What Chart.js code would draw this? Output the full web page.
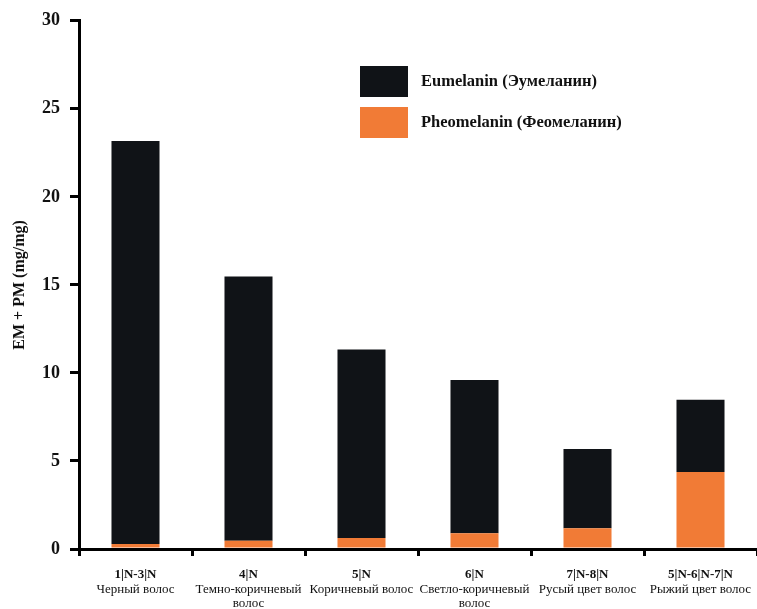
<!DOCTYPE html>
<html>
<head>
<meta charset="utf-8">
<script src="https://cdn.jsdelivr.net/npm/chart.js@4/dist/chart.umd.min.js"></script>
<style>
  html, body { margin: 0; padding: 0; background: #fff; }
  #wrap { width: 757px; height: 609px; position: relative; }
</style>
</head>
<body>
<div id="wrap"><canvas id="melanin"></canvas></div>
<script>
// categories: bold code line + plain name lines
const codes = ['1|N-3|N', '4|N', '5|N', '6|N', '7|N-8|N', '5|N-6|N-7|N'];
const names = [
    ['Черный волос'],
    ['Темно-коричневый', 'волос'],
    ['Коричневый волос'],
    ['Светло-коричневый', 'волос'],
    ['Русый цвет волос'],
    ['Рыжий цвет волос']
];
const eumelanin = [22.9, 15.0, 10.7, 8.7, 4.5, 4.1];
const pheomelanin = [0.28, 0.47, 0.63, 0.9, 1.18, 4.38];
const yTicks = [0, 5, 10, 15, 20, 25, 30];

const BLACK = '#101317';
const ORANGE = '#f17b36';
const SERIF = '"Liberation Serif", "DejaVu Serif", serif';

// legend boxes inside the plot, drawn from dataset labels/colours
const boxLegend = {
    id: 'boxLegend',
    afterDraw(chart) {
        const ctx = chart.ctx;
        const order = [1, 0];
        ctx.save();
        order.forEach((di, k) => {
            const ds = chart.data.datasets[di];
            const y = 66 + k * 41;
            ctx.fillStyle = ds.backgroundColor;
            ctx.fillRect(360, y, 48, 31);
            ctx.fillStyle = '#111';
            ctx.font = 'bold 16.5px ' + SERIF;
            ctx.textBaseline = 'middle';
            ctx.textAlign = 'left';
            ctx.fillText(ds.label, 421, y + 16);
        });
        ctx.restore();
    }
};

// two-font x labels under the axis
const xLabels = {
    id: 'xLabels',
    afterDraw(chart) {
        const ctx = chart.ctx;
        const x = chart.scales.x;
        ctx.save();
        ctx.fillStyle = '#111';
        ctx.textAlign = 'center';
        ctx.textBaseline = 'middle';
        codes.forEach((c, i) => {
            const px = x.getPixelForValue(i);
            ctx.font = 'bold 13px ' + SERIF;
            ctx.fillText(c, px, 575);
            ctx.font = '13px ' + SERIF;
            names[i].forEach((line, j) => {
                ctx.fillText(line, px, 590 + j * 14);
            });
        });
        ctx.restore();
    }
};

new Chart(document.getElementById('melanin'), {
    type: 'bar',
    data: {
        labels: codes,
        datasets: [{
            label: 'Pheomelanin (Феомеланин)',
            data: pheomelanin,
            backgroundColor: ORANGE
        }, {
            label: 'Eumelanin (Эумеланин)',
            data: eumelanin,
            backgroundColor: BLACK
        }]
    },
    options: {
        responsive: true,
        maintainAspectRatio: false,
        animation: false,
        layout: { padding: { top: 15, left: 0, right: 0, bottom: 0 } },
        datasets: { bar: { categoryPercentage: 1, barPercentage: 0.425 } },
        plugins: {
            legend: { display: false },
            tooltip: { enabled: false }
        },
        scales: {
            x: {
                stacked: true,
                border: { color: '#000', width: 3 },
                grid: {
                    offset: true,
                    drawOnChartArea: false,
                    color: '#000',
                    lineWidth: 3,
                    tickLength: 7
                },
                ticks: { display: false },
                afterFit(s) { s.height = 60; }
            },
            y: {
                stacked: true,
                min: 0,
                max: 30,
                border: { color: '#000', width: 3 },
                grid: {
                    drawOnChartArea: false,
                    color: '#000',
                    lineWidth: 3,
                    tickLength: 9
                },
                afterBuildTicks(s) { s.ticks = yTicks.map(v => ({ value: v })); },
                ticks: {
                    color: '#111',
                    padding: 10,
                    font: { family: SERIF, size: 18, weight: 'bold' }
                },
                title: {
                    display: true,
                    text: 'EM + PM (mg/mg)',
                    color: '#111',
                    padding: { top: 10, bottom: 0 },
                    font: { family: SERIF, size: 16, weight: 'bold' }
                },
                afterFit(s) { s.width = 79; }
            }
        }
    },
    plugins: [boxLegend, xLabels]
});
</script>
</body>
</html>
